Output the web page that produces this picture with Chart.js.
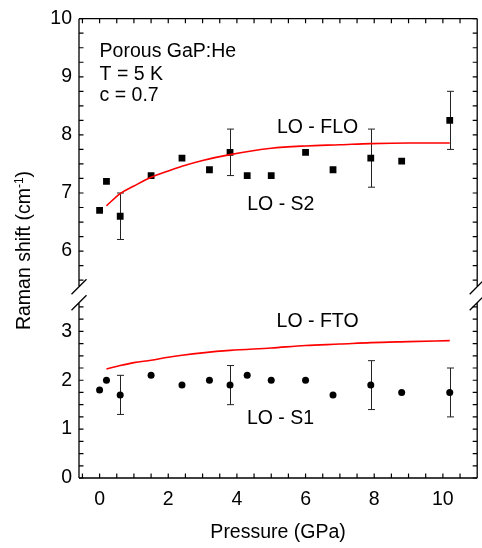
<!DOCTYPE html>
<html>
<head>
<meta charset="utf-8">
<script src="https://cdn.jsdelivr.net/npm/chart.js@4.4.1/dist/chart.umd.min.js"></script>
<style>
  body { margin: 0; background: #fff; }
  #wrap { width: 482px; height: 548px; }
</style>
</head>
<body>
<div id="wrap"><canvas id="myChart"></canvas></div>
<script>
// measured points (pressure in GPa, shifts in cm-1)
const pressure = [0, 0.2, 0.6, 1.5, 2.4, 3.2, 3.8, 4.3, 5.0, 6.0, 6.8, 7.9, 8.8, 10.2];
const loS2    = [6.7, 7.2, 6.6, 7.3, 7.6, 7.4, 7.7, 7.3, 7.3, 7.7, 7.4, 7.6, 7.55, 8.25];
const loS2Err = [0, 0, 0.4, 0, 0, 0, 0.4, 0, 0, 0, 0, 0.5, 0, 0.5];
const loS1    = [1.8, 2.0, 1.7, 2.1, 1.9, 2.0, 1.9, 2.1, 2.0, 2.0, 1.7, 1.9, 1.75, 1.75];
const loS1Err = [0, 0, 0.4, 0, 0, 0, 0.4, 0, 0, 0, 0, 0.5, 0, 0.5];

// calculated curves
const curveP = [0.2, 0.6, 1.0, 1.5, 2.0, 2.4, 3.0, 3.8, 5.0, 6.0, 7.0, 7.9, 9.0, 10.2];
const loFLO  = [6.78, 6.99, 7.12, 7.27, 7.38, 7.46, 7.56, 7.66, 7.77, 7.81, 7.83, 7.85, 7.86, 7.86];
const loFTO  = [2.23, 2.30, 2.36, 2.41, 2.47, 2.51, 2.56, 2.61, 2.66, 2.71, 2.74, 2.77, 2.79, 2.81];

const xTicks = [0, 2, 4, 6, 8, 10];
const topTicks = [6, 7, 8, 9, 10];
const bottomTicks = [0, 1, 2, 3];

const notes = [
  {text: 'Porous GaP:He', x: 0.0, y: 9.34, axis: 'yTop', align: 'left'},
  {text: 'T = 5 K', x: 0.0, y: 8.94, axis: 'yTop', align: 'left'},
  {text: 'c = 0.7', x: 0.0, y: 8.59, axis: 'yTop', align: 'left'},
  {text: 'LO - FLO', x: 6.35, y: 8.04, axis: 'yTop', align: 'center'},
  {text: 'LO - S2', x: 5.28, y: 6.70, axis: 'yTop', align: 'center'},
  {text: 'LO - FTO', x: 6.35, y: 3.08, axis: 'yBot', align: 'center'},
  {text: 'LO - S1', x: 5.27, y: 1.11, axis: 'yBot', align: 'center'}
];

const FONT = '"Liberation Sans", Arial, Helvetica, sans-serif';
const FS = 19.5;
Chart.defaults.font.family = FONT;
Chart.defaults.color = '#000';

function pts(xs, ys) {
  return xs.map((x, i) => ({x: x, y: ys[i]}));
}

const framePlugin = {
  id: 'frame',
  beforeDatasetsDraw(chart) {
    // error bars
    const ctx = chart.ctx;
    const x = chart.scales.x;
    const bars = [[loS2, loS2Err, chart.scales.yTop], [loS1, loS1Err, chart.scales.yBot]];
    ctx.save();
    ctx.strokeStyle = '#222';
    ctx.lineWidth = 1;
    bars.forEach(([vals, errs, ys]) => {
      vals.forEach((v, i) => {
        if (!errs[i]) return;
        const px = Math.round(x.getPixelForValue(pressure[i])) + 0.5;
        const y1 = ys.getPixelForValue(v + errs[i]);
        const y2 = ys.getPixelForValue(v - errs[i]);
        ctx.beginPath();
        ctx.moveTo(px, y1); ctx.lineTo(px, y2);
        ctx.moveTo(px - 3.5, y1); ctx.lineTo(px + 3.5, y1);
        ctx.moveTo(px - 3.5, y2); ctx.lineTo(px + 3.5, y2);
        ctx.stroke();
      });
    });
    ctx.restore();
  },
  afterDraw(chart) {
    const ctx = chart.ctx;
    const {left, right, top, bottom} = chart.chartArea;
    const x = chart.scales.x, yTop = chart.scales.yTop, yBot = chart.scales.yBot;
    const j = yTop.bottom;
    const gap = 8;
    ctx.save();
    ctx.strokeStyle = '#000';
    ctx.lineWidth = 1.3;
    ctx.beginPath();
    ctx.moveTo(left, top); ctx.lineTo(right, top);
    ctx.moveTo(left, bottom); ctx.lineTo(right, bottom);
    [left, right].forEach(sx => {
      ctx.moveTo(sx, top); ctx.lineTo(sx, j - gap);
      ctx.moveTo(sx, j + gap); ctx.lineTo(sx, bottom);
      // break marks
      [j - gap, j + gap].forEach(cy => {
        ctx.moveTo(sx - 7.5, cy + 7.5); ctx.lineTo(sx + 7.5, cy - 7.5);
      });
    });
    ctx.stroke();

    // inward ticks
    ctx.lineWidth = 1.2;
    ctx.beginPath();
    const len = 4.5;
    for (let v = -0.5; v <= 10.5; v += 0.5) {
      const px = x.getPixelForValue(v);
      ctx.moveTo(px, bottom); ctx.lineTo(px, bottom - len);
      ctx.moveTo(px, top); ctx.lineTo(px, top + len);
    }
    const yt = [];
    for (let v = 5.5; v <= 10; v += 0.25) yt.push(yTop.getPixelForValue(v));
    for (let v = 0; v <= 3.5; v += 0.25) yt.push(yBot.getPixelForValue(v));
    yt.forEach(py => {
      ctx.moveTo(left, py); ctx.lineTo(left + len, py);
      ctx.moveTo(right, py); ctx.lineTo(right - len, py);
    });
    ctx.stroke();

    // text notes
    ctx.fillStyle = '#000';
    ctx.font = FS + 'px ' + FONT;
    ctx.textBaseline = 'alphabetic';
    notes.forEach(n => {
      ctx.textAlign = n.align;
      ctx.fillText(n.text, x.getPixelForValue(n.x), chart.scales[n.axis].getPixelForValue(n.y));
    });

    // y axis title with superscript
    const main = 'Raman shift (cm';
    const sup = '-1';
    const end = ')';
    ctx.font = FS + 'px ' + FONT;
    const w1 = ctx.measureText(main).width;
    const w3 = ctx.measureText(end).width;
    ctx.font = '12px ' + FONT;
    const w2 = ctx.measureText(sup).width;
    const total = w1 + w2 + w3;
    ctx.translate(30, 250.5);
    ctx.rotate(-Math.PI / 2);
    ctx.textAlign = 'left';
    ctx.font = FS + 'px ' + FONT;
    ctx.fillText(main, -total / 2, 0);
    ctx.font = '12px ' + FONT;
    ctx.fillText(sup, -total / 2 + w1, -7);
    ctx.font = FS + 'px ' + FONT;
    ctx.fillText(end, -total / 2 + w1 + w2, 0);
    ctx.restore();
  }
};

const yCommon = {
  type: 'linear',
  position: 'left',
  stack: 'y',
  grid: {display: false, drawTicks: false},
  border: {display: false},
  ticks: {font: {size: FS}, padding: 7, color: '#000'},
  afterFit: s => { s.width = 79; }
};

new Chart(document.getElementById('myChart'), {
  type: 'scatter',
  data: {
    datasets: [
      {
        label: 'LO - FLO',
        data: pts(curveP, loFLO),
        yAxisID: 'yTop',
        showLine: true,
        borderColor: '#ff0000',
        borderWidth: 1.6,
        pointRadius: 0,
        cubicInterpolationMode: 'monotone'
      },
      {
        label: 'LO - S2',
        data: pts(pressure, loS2),
        yAxisID: 'yTop',
        pointStyle: 'rect',
        pointRadius: 4.8,
        backgroundColor: '#000',
        borderColor: '#000',
        borderWidth: 0
      },
      {
        label: 'LO - FTO',
        data: pts(curveP, loFTO),
        yAxisID: 'yBot',
        showLine: true,
        borderColor: '#ff0000',
        borderWidth: 1.6,
        pointRadius: 0,
        cubicInterpolationMode: 'monotone'
      },
      {
        label: 'LO - S1',
        data: pts(pressure, loS1),
        yAxisID: 'yBot',
        pointStyle: 'circle',
        pointRadius: 3.5,
        backgroundColor: '#000',
        borderColor: '#000',
        borderWidth: 0
      }
    ]
  },
  options: {
    responsive: true,
    maintainAspectRatio: false,
    animation: false,
    layout: {padding: {top: 13, right: 2, left: 0, bottom: 0}},
    plugins: {
      legend: {display: false},
      tooltip: {enabled: false}
    },
    scales: {
      x: {
        type: 'linear',
        min: -0.6,
        max: 11,
        grid: {display: false, drawTicks: false},
        border: {display: false},
        afterBuildTicks: s => { s.ticks = xTicks.map(v => ({value: v})); },
        afterFit: s => { s.height = 70; },
        ticks: {font: {size: FS}, padding: 9.5, maxRotation: 0, autoSkip: false, color: '#000'},
        title: {
          display: true,
          text: 'Pressure (GPa)',
          color: '#000',
          font: {size: FS},
          padding: {top: 0, bottom: 4}
        }
      },
      yBot: Object.assign({}, yCommon, {
        stackWeight: 186,
        min: 0,
        max: 3.75,
        afterBuildTicks: s => { s.ticks = bottomTicks.map(v => ({value: v})); }
      }),
      yTop: Object.assign({}, yCommon, {
        stackWeight: 280,
        min: 5.25,
        max: 10,
        afterBuildTicks: s => { s.ticks = topTicks.map(v => ({value: v})); }
      })
    }
  },
  plugins: [framePlugin]
});
</script>
</body>
</html>
